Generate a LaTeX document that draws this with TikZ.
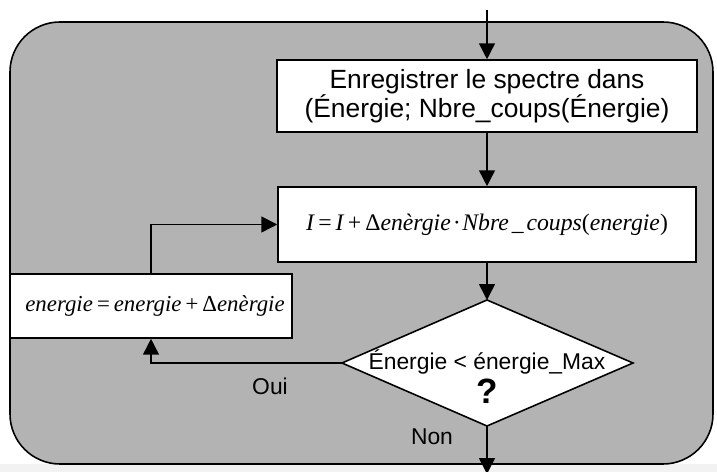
\documentclass[tikz,border=0pt]{standalone}
\usepackage{fontspec}
\setmainfont{Liberation Sans}
\newfontfamily\mathlike{Liberation Serif}
\usetikzlibrary{arrows.meta}
\definecolor{bggray}{RGB}{179,179,179}
\tikzset{
  px/.style={x=0.02cm,y=-0.02cm},
  procbox/.style={draw=black,line width=0.9pt,fill=white},
  conn/.style={draw=black,line width=0.9pt},
  arr/.style={conn,-{Triangle[length=9pt,width=9pt]}},
  lbl/.style={font=\fontsize{13}{16}\selectfont,align=center},
  eq/.style={font=\mathlike\itshape\fontsize{13.5}{16}\selectfont}
}
\newcommand{\ts}{\hspace{0.12em}}
\begin{document}
\begin{tikzpicture}[px]
\useasboundingbox (0,0) rectangle (717,472);
\fill[white] (0,0) rectangle (717,472);
\fill[black!5] (0,464) rectangle (717,472);
\draw[fill=bggray,line width=0.9pt,rounded corners=1cm] (10,22) rectangle (713,464);
% boxes
\node[procbox,minimum width=8.4cm,minimum height=1.44cm,inner sep=0pt] (b1) at (487,96) {};
\node[lbl,font=\fontsize{15}{16.5}\selectfont] (t1) at (b1) {Enregistrer le spectre dans\\(Énergie; Nbre\_coups(Énergie)};
\node[procbox,minimum width=8.36cm,minimum height=1.5cm,inner sep=0pt] (b2) at (487,224.5) {};
\node[eq] (t2) at (b2) {I\ts=\ts I\ts+\ts{\upshape Δ}enèrgie\ts·\ts Nbre\ts\_\ts coups{\upshape(}energie{\upshape)}};
\node[procbox,minimum width=5.64cm,minimum height=1.28cm,inner sep=0pt] (b3) at (151,306) {};
\node[eq,font=\mathlike\itshape\fontsize{13}{16}\selectfont] (t3) at (155,306) {energie\ts=\ts energie\ts+\ts{\upshape Δ}enèrgie};
% diamond
\coordinate (dt) at (487,300);
\coordinate (dl) at (342,363);
\coordinate (dr) at (633,363);
\coordinate (db) at (487,426);
\draw[procbox] (dt) -- (dr) -- (db) -- (dl) -- cycle;
\node[lbl] (dtext) at (487,362) {Énergie < énergie\_Max};
\node[font=\fontsize{20}{20}\selectfont\bfseries] (dq) at (487,391) {?};
% connectors
\coordinate (top) at (487,10);
\coordinate (bot) at (487,474);
\draw[arr] (top) -- (b1.north);
\draw[arr] (b1.south) -- (b2.north);
\draw[arr] (b2.south) -- (dt);
\draw[arr] (dl) -| (b3.south);
\draw[arr] (b3.north) |- (b2.west);
\draw[arr] (db) -- (bot);
\node[lbl] (oui) at (270,386) {Oui};
\node[lbl] (non) at (432,437) {Non};
\end{tikzpicture}
\end{document}
